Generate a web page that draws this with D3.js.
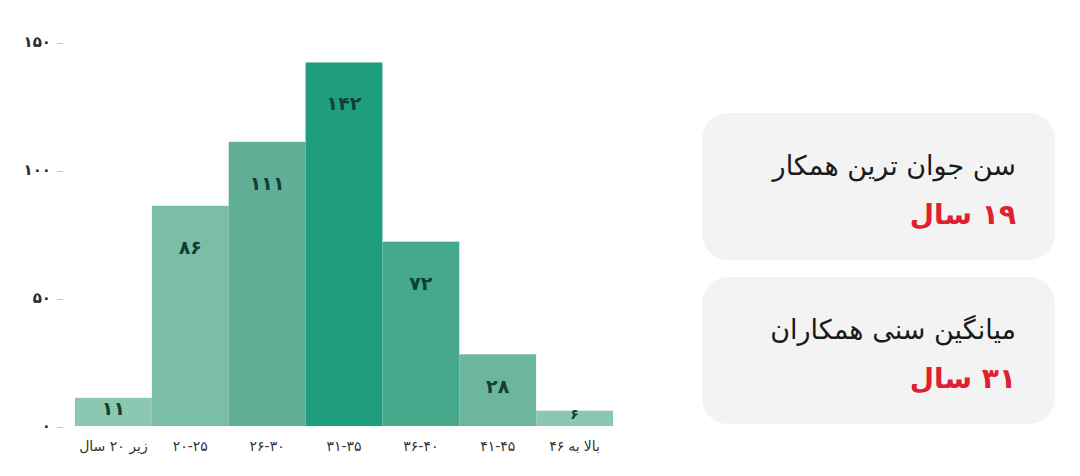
<!DOCTYPE html>
<html lang="fa">
<head>
<meta charset="utf-8">
<script src="https://cdn.jsdelivr.net/npm/d3@7"></script>
<style>
  html, body { margin: 0; padding: 0; background: #ffffff; }
  svg { display: block; font-family: "DejaVu Sans", "Noto Sans", sans-serif; }
</style>
</head>
<body>
<svg id="chart" width="1080" height="476"></svg>
<script>
// ---- data ----
const categories = ["زیر ۲۰ سال", "۲۰-۲۵", "۲۶-۳۰", "۳۱-۳۵", "۳۶-۴۰", "۴۱-۴۵", "۴۶ به بالا"];
const counts = [11, 86, 111, 142, 72, 28, 6];
const yTicks = [0, 50, 100, 150];
const barColors = ["#8cc7b2", "#7bbea6", "#5fae95", "#1f9e7f", "#46a98b", "#6bb69d", "#8cc7b2"];
const cardTitles = ["سن جوان ترین همکار", "میانگین سنی همکاران"];
const cardValues = ["۱۹ سال", "۳۱ سال"];

const faDigits = s => String(s).replace(/\d/g, d => "۰۱۲۳۴۵۶۷۸۹"[d]);

const svg = d3.select("#chart");
const margin = { left: 75, right: 613, top: 42, bottom: 426 };

const x = d3.scaleBand().domain(categories).range([margin.left, margin.right]).padding(0);
const y = d3.scaleLinear().domain([0, 150]).range([margin.bottom, margin.top]);

// y axis
const yAxis = svg.append("g")
  .attr("transform", `translate(${63},0)`)
  .call(d3.axisLeft(y).tickValues(yTicks).tickSize(6).tickPadding(6).tickFormat(faDigits));
yAxis.select(".domain").remove();
yAxis.selectAll(".tick line").attr("stroke", "#c8c8c8").attr("x2", 0).attr("x1", -6)
  .attr("transform", "translate(0,1)");
yAxis.selectAll(".tick text")
  .attr("fill", "#2a2a2a")
  .style("font-size", "15px")
  .style("font-weight", "bold")
  .style("font-family", "DejaVu Sans, sans-serif");

// bars
const data = categories.map((c, i) => ({ cat: c, v: counts[i], color: barColors[i] }));
svg.append("g").selectAll("rect").data(data).join("rect")
  .attr("x", d => x(d.cat))
  .attr("y", d => y(d.v))
  .attr("width", x.bandwidth())
  .attr("height", d => y(0) - y(d.v))
  .attr("fill", d => d.color);

// value labels
svg.append("g").selectAll("text").data(data).join("text")
  .attr("x", d => x(d.cat) + x.bandwidth() / 2)
  .attr("y", d => {
    const top = y(d.v), h = y(0) - y(d.v);
    const off = Math.min(41, h / 2 - 4);
    return top + off;
  })
  .attr("text-anchor", "middle")
  .attr("dominant-baseline", "central")
  .attr("fill", "#123f33")
  .style("font-size", d => d.v < 10 ? "14px" : "19px")
  .style("font-weight", "bold")
  .text(d => faDigits(d.v));

// x labels
const xl = svg.append("g").selectAll("g").data(categories).join("g")
  .attr("transform", d => `translate(${x(d) + x.bandwidth() / 2},446)`);
xl.each(function (d) {
  const g = d3.select(this);
  const style = t => t.attr("dominant-baseline", "central").attr("fill", "#333").style("font-size", "14px");
  if (/^[۰-۹]+-[۰-۹]+$/.test(d)) {
    // numeric range: reads left to right
    style(g.append("text"))
      .attr("text-anchor", "middle")
      .attr("direction", "ltr")
      .attr("unicode-bidi", "bidi-override")
      .style("unicode-bidi", "bidi-override")
      .style("direction", "ltr")
      .text(d);
  } else if (/^[۰-۹]+ /.test(d)) {
    // number first, words placed left to right as in the reference
    const words = d.split(" ");
    const space = 4;
    let cx = 0;
    const nodes = words.map(w => {
      const t = style(g.append("text")).attr("text-anchor", "start").attr("x", cx).text(w);
      cx += t.node().getComputedTextLength() + space;
      return t;
    });
    const total = cx - space;
    nodes.forEach(t => t.attr("x", +t.attr("x") - total / 2));
  } else {
    style(g.append("text"))
      .attr("text-anchor", "middle")
      .attr("direction", "rtl")
      .text(d);
  }
});

// cards
const cardTops = [113, 277];
const cards = svg.append("g").selectAll("g").data(cardTitles).join("g")
  .attr("transform", (d, i) => `translate(702,${cardTops[i]})`);
cards.append("rect")
  .attr("width", 353).attr("height", 147)
  .attr("rx", 26).attr("ry", 26)
  .attr("fill", "#f3f3f3");
cards.append("text")
  .attr("x", 314).attr("y", 62)
  .attr("text-anchor", "start")
  .attr("direction", "rtl")
  .attr("fill", "#1a1a1a")
  .style("font-size", "27px")
  .text(d => d);
cards.append("text")
  .attr("x", 314).attr("y", 111)
  .attr("text-anchor", "start")
  .attr("direction", "rtl")
  .attr("fill", "#e0202f")
  .style("font-size", "28px")
  .style("font-weight", "bold")
  .text((d, i) => cardValues[i]);
</script>
</body>
</html>
